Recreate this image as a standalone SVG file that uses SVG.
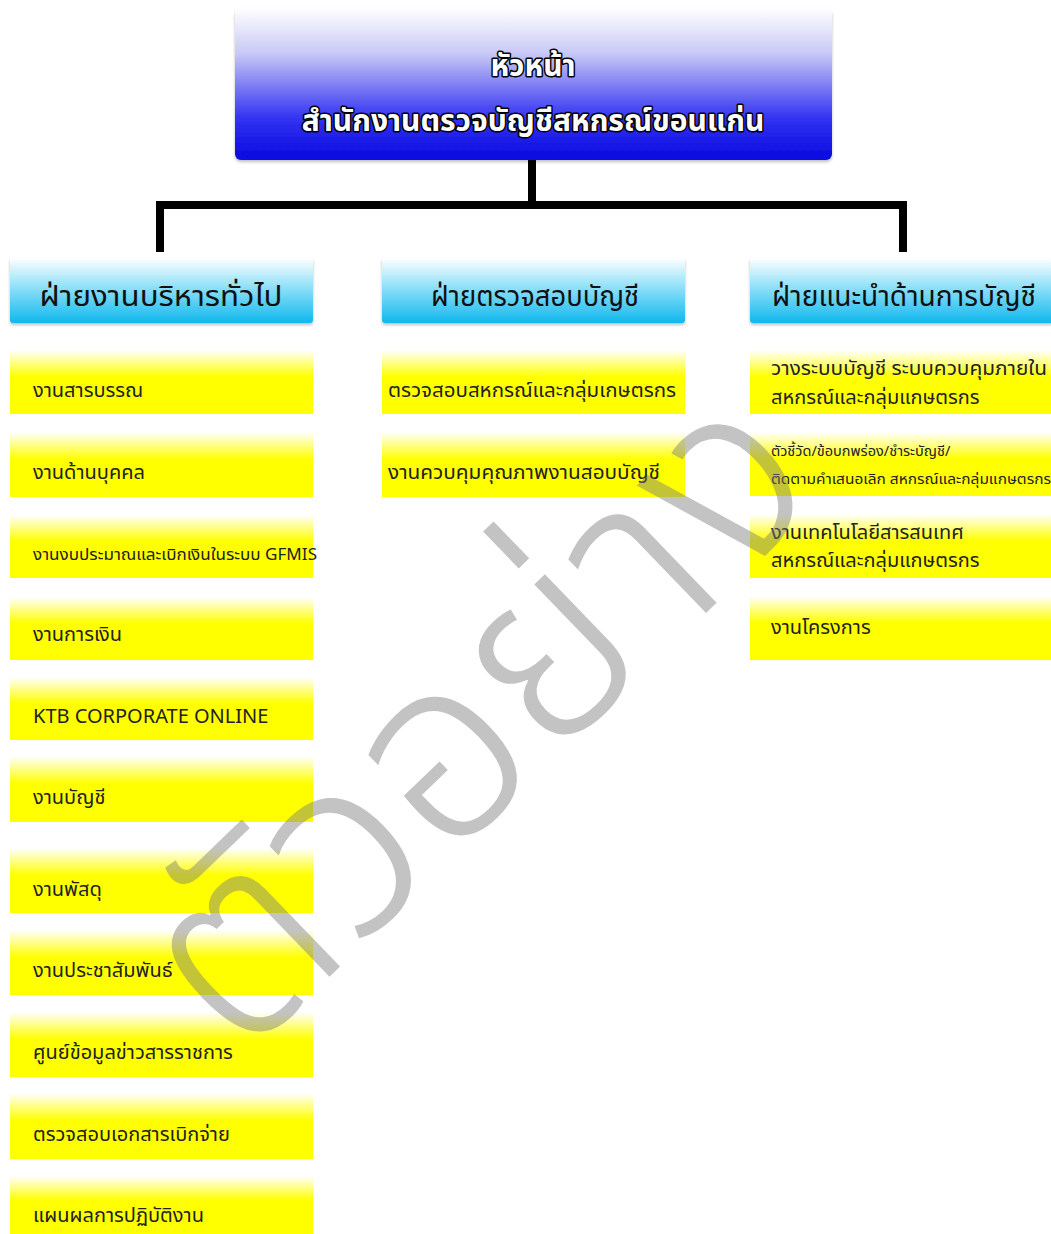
<svg xmlns="http://www.w3.org/2000/svg" width="1051" height="1234" viewBox="0 0 1051 1234">
<defs>
<linearGradient id="gBlue" x1="0" y1="0" x2="0" y2="1">
<stop offset="0" stop-color="#ffffff"/>
<stop offset="0.3" stop-color="#c8c8f6"/>
<stop offset="0.72" stop-color="#3434f2"/>
<stop offset="1" stop-color="#0808e0"/>
</linearGradient>
<linearGradient id="gCyan" x1="0" y1="0" x2="0" y2="1">
<stop offset="0" stop-color="#ffffff"/>
<stop offset="0.45" stop-color="#8fe0f8"/>
<stop offset="1" stop-color="#10b8ee"/>
</linearGradient>
<linearGradient id="gYel" x1="0" y1="0" x2="0" y2="1">
<stop offset="0" stop-color="#ffffff"/>
<stop offset="0.42" stop-color="#ffff00"/>
<stop offset="1" stop-color="#ffff00"/>
</linearGradient>
<filter id="sh" x="-5%" y="-5%" width="110%" height="120%">
<feDropShadow dx="0" dy="2" stdDeviation="1.5" flood-color="#000" flood-opacity="0.25"/>
</filter>
</defs>
<style>
.th{font-family:"Noto Sans Thai","Noto Sans","Liberation Sans",sans-serif;}
.top{font-size:30px;fill:#ffffff;stroke:#000;stroke-width:3;paint-order:stroke;stroke-linejoin:round;text-anchor:middle;font-weight:bold;}
.hdr{font-size:29px;fill:#111;text-anchor:middle;}
.it{font-size:20px;fill:#222;}
.ybox{fill:url(#gYel);}
.cbox{fill:url(#gCyan);filter:url(#sh);}
.conn{stroke:#000;stroke-width:8;fill:none;}
.wm{font-size:255px;fill:#7a7a7a;fill-opacity:0.45;font-weight:300;text-anchor:middle;}
</style>
<rect x="0" y="0" width="1051" height="1234" fill="#ffffff"/>

<g id="connectors">
<path class="conn" d="M532,160 V205 M156,205 H907 M160,205 V252 M903,205 V252"/>
</g>

<g id="head">
<rect x="235" y="8" width="597" height="152" rx="6" fill="url(#gBlue)" filter="url(#sh)"/>
<text class="th top" x="533" y="76">หัวหน้า</text>
<text class="th top" x="533" y="131">สำนักงานตรวจบัญชีสหกรณ์ขอนแก่น</text>
</g>

<g id="h1"><rect class="cbox" x="10" y="258" width="303" height="65" rx="3"/><text class="th hdr" x="161" y="306" textLength="243" lengthAdjust="spacingAndGlyphs">ฝ่ายงานบริหารทั่วไป</text></g>
<g id="h2"><rect class="cbox" x="382" y="258" width="303" height="65" rx="3"/><text class="th hdr" x="535" y="306" textLength="208" lengthAdjust="spacingAndGlyphs">ฝ่ายตรวจสอบบัญชี</text></g>
<g id="h3"><rect class="cbox" x="750" y="258" width="305" height="65" rx="3"/><text class="th hdr" x="904" y="306" textLength="264" lengthAdjust="spacingAndGlyphs">ฝ่ายแนะนำด้านการบัญชี</text></g>

<g id="l1"><rect class="ybox" x="10" y="350" width="303" height="64"/><text class="th it" x="33" y="397">งานสารบรรณ</text></g>
<g id="l2"><rect class="ybox" x="10" y="432" width="303" height="65"/><text class="th it" x="33" y="479">งานด้านบุคคล</text></g>
<g id="l3"><rect class="ybox" x="10" y="515" width="303" height="63"/><text class="th" x="33" y="560" font-size="16" fill="#222" textLength="284" lengthAdjust="spacingAndGlyphs">งานงบประมาณและเบิกเงินในระบบ GFMIS</text></g>
<g id="l4"><rect class="ybox" x="10" y="597" width="303" height="63"/><text class="th it" x="33" y="641">งานการเงิน</text></g>
<g id="l5"><rect class="ybox" x="10" y="677" width="303" height="63"/><text class="th it" x="33" y="723" font-size="18">KTB CORPORATE ONLINE</text></g>
<g id="l6"><rect class="ybox" x="10" y="756" width="303" height="66"/><text class="th it" x="33" y="804">งานบัญชี</text></g>
<g id="l7"><rect class="ybox" x="10" y="848" width="303" height="65"/><text class="th it" x="33" y="896">งานพัสดุ</text></g>
<g id="l8"><rect class="ybox" x="10" y="930" width="303" height="65"/><text class="th it" x="33" y="977">งานประชาสัมพันธ์</text></g>
<g id="l9"><rect class="ybox" x="10" y="1012" width="303" height="65"/><text class="th it" x="33" y="1059">ศูนย์ข้อมูลข่าวสารราชการ</text></g>
<g id="l10"><rect class="ybox" x="10" y="1093" width="303" height="66"/><text class="th it" x="33" y="1141">ตรวจสอบเอกสารเบิกจ่าย</text></g>
<g id="l11"><rect class="ybox" x="10" y="1176" width="303" height="58"/><text class="th it" x="33" y="1222">แผนผลการปฏิบัติงาน</text></g>

<g id="m1"><rect class="ybox" x="382" y="350" width="303" height="64"/><text class="th it" x="388" y="397" textLength="288" lengthAdjust="spacingAndGlyphs">ตรวจสอบสหกรณ์และกลุ่มเกษตรกร</text></g>
<g id="m2"><rect class="ybox" x="382" y="432" width="303" height="65"/><text class="th it" x="388" y="479" textLength="272" lengthAdjust="spacingAndGlyphs">งานควบคุมคุณภาพงานสอบบัญชี</text></g>

<g id="r1"><rect class="ybox" x="750" y="350" width="301" height="64"/><text class="th it" x="771" y="375" font-size="21" textLength="276" lengthAdjust="spacingAndGlyphs">วางระบบบัญชี ระบบควบคุมภายใน</text><text class="th it" x="771" y="404" font-size="21">สหกรณ์และกลุ่มแกษตรกร</text></g>
<g id="r2"><rect class="ybox" x="750" y="432" width="301" height="64"/><text class="th" x="771" y="456" font-size="14.5" fill="#222">ตัวชี้วัด/ข้อบกพร่อง/ชำระบัญชี/</text><text class="th" x="771" y="484" font-size="14" fill="#222" textLength="280" lengthAdjust="spacingAndGlyphs">ติดตามคำเสนอเลิก สหกรณ์และกลุ่มแกษตรกร</text></g>
<g id="r3"><rect class="ybox" x="750" y="514" width="301" height="64"/><text class="th it" x="771" y="539" font-size="21">งานเทคโนโลยีสารสนเทศ</text><text class="th it" x="771" y="567" font-size="21">สหกรณ์และกลุ่มแกษตรกร</text></g>
<g id="r4"><rect class="ybox" x="750" y="596" width="301" height="64"/><text class="th it" x="771" y="634">งานโครงการ</text></g>

<text class="th wm" transform="translate(535,778) rotate(-44)">ตัวอย่าง</text>
</svg>
